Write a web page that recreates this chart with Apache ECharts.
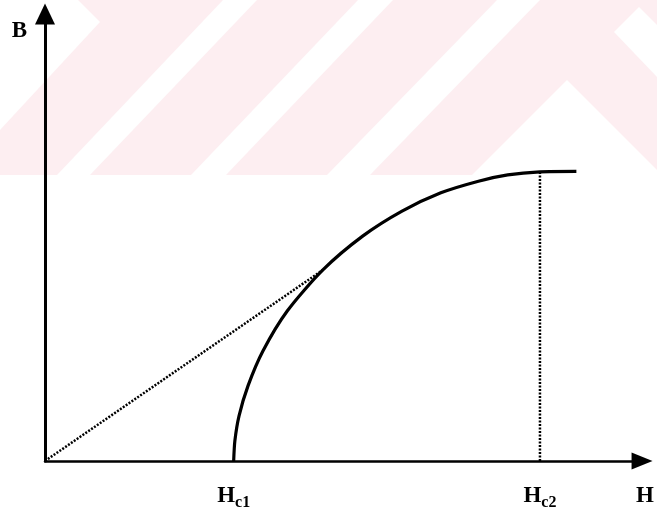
<!DOCTYPE html>
<html>
<head>
<meta charset="utf-8">
<script src="https://cdn.jsdelivr.net/npm/echarts@6/dist/echarts.min.js"></script>
<style>
  html, body { margin: 0; padding: 0; background: #fff; }
  #chart { width: 657px; height: 520px; }
</style>
</head>
<body>
<div id="chart"></div>
<script>
// Magnetisation curve of a type-II superconductor (B versus applied H)
const curveH = [31.6, 31.8, 32.5, 34.0, 36.5, 40.6, 46.5, 53.2, 59.8, 66.3, 72.6, 77.5, 82.9, 89.0];
const curveB = [0, 4.5, 10.1, 16.8, 24.6, 33.6, 42.7, 50.3, 55.9, 60.0, 62.6, 64.0, 64.7, 64.8];

// Lower and upper critical fields
const hc1 = 31.6;
const hc2 = 82.9;
const bAtHc2 = 64.7;

// Normal-state line B = μ0H up to where it meets the curve
const normalH = [0, 46.5];
const normalB = [0, 42.7];

const tickLabels = { [hc1]: '{h|H}{s|c1}', [hc2]: '{h|H}{s|c2}' };

const serif = "'Liberation Serif', 'Times New Roman', serif";
const pink = '#fdeef1';

const chart = echarts.init(document.getElementById('chart'));

const zip = (xs, ys) => xs.map((x, i) => [x, ys[i]]);

chart.setOption({
  animation: false,
  backgroundColor: '#fff',
  graphic: [
    { type: 'rect', z: -10, silent: true, shape: { x: 0, y: 0, width: 657, height: 175 }, style: { fill: pink } },
    { type: 'polygon', z: -9, silent: true, shape: { points: [[0, 0], [78, 0], [100, 22], [0, 130]] }, style: { fill: '#fff' } },
    { type: 'polygon', z: -9, silent: true, shape: { points: [[223, 0], [257, 0], [90, 175], [57, 175]] }, style: { fill: '#fff' } },
    { type: 'polygon', z: -9, silent: true, shape: { points: [[358, 0], [393, 0], [226, 175], [191, 175]] }, style: { fill: '#fff' } },
    { type: 'polygon', z: -9, silent: true, shape: { points: [[497, 0], [540, 0], [370, 175], [327, 175]] }, style: { fill: '#fff' } },
    { type: 'polygon', z: -9, silent: true, shape: { points: [[567, 80], [472, 175], [657, 175], [657, 170]] }, style: { fill: '#fff' } },
    { type: 'polygon', z: -9, silent: true, shape: { points: [[639, 7], [614, 32], [657, 77], [657, 25]] }, style: { fill: '#fff' } }
  ],
  grid: { left: 45, right: 14, top: 14, bottom: 59, containLabel: false },
  xAxis: {
    type: 'value',
    min: 0,
    max: 100,
    name: 'H',
    nameLocation: 'end',
    nameGap: 3,
    nameTextStyle: {
      fontFamily: serif, fontSize: 23, fontWeight: 'bold', color: '#000',
      align: 'center', verticalAlign: 'top', padding: [24, 0, 0, 0]
    },
    axisLine: {
      show: true,
      symbol: ['none', 'triangle'],
      symbolSize: [17, 21],
      lineStyle: { color: '#000', width: 2.5 }
    },
    axisTick: { show: false },
    splitLine: { show: false },
    axisLabel: {
      show: true,
      customValues: [hc1, hc2],
      margin: 24,
      verticalAlign: 'top',
      formatter: (v) => tickLabels[v] || '',
      rich: {
        h: { fontFamily: serif, fontSize: 23, fontWeight: 'bold', color: '#000', lineHeight: 23, verticalAlign: 'top' },
        s: { fontFamily: serif, fontSize: 16, fontWeight: 'bold', color: '#000', lineHeight: 16, padding: [10, 0, 0, 0], verticalAlign: 'top' }
      }
    }
  },
  yAxis: {
    type: 'value',
    min: 0,
    max: 100,
    name: 'B',
    nameLocation: 'end',
    nameGap: -17,
    nameTextStyle: {
      fontFamily: serif, fontSize: 23, fontWeight: 'bold', color: '#000',
      align: 'right', verticalAlign: 'middle', padding: [0, 18, 0, 0]
    },
    axisLine: {
      show: true,
      symbol: ['none', 'triangle'],
      symbolSize: [20, 21],
      lineStyle: { color: '#000', width: 3 }
    },
    axisTick: { show: false },
    axisLabel: { show: false },
    splitLine: { show: false }
  },
  series: [
    {
      type: 'line',
      data: zip(curveH, curveB),
      showSymbol: false,
      smooth: 0.25,
      lineStyle: { color: '#000', width: 3.2 }
    },
    {
      type: 'line',
      data: zip(normalH, normalB),
      showSymbol: false,
      lineStyle: { color: '#000', width: 2.5, type: [2, 1.5] }
    },
    {
      type: 'line',
      data: [[hc2, 0], [hc2, bAtHc2]],
      showSymbol: false,
      lineStyle: { color: '#000', width: 2.5, type: [2, 1.5] }
    }
  ]
});
</script>
</body>
</html>
